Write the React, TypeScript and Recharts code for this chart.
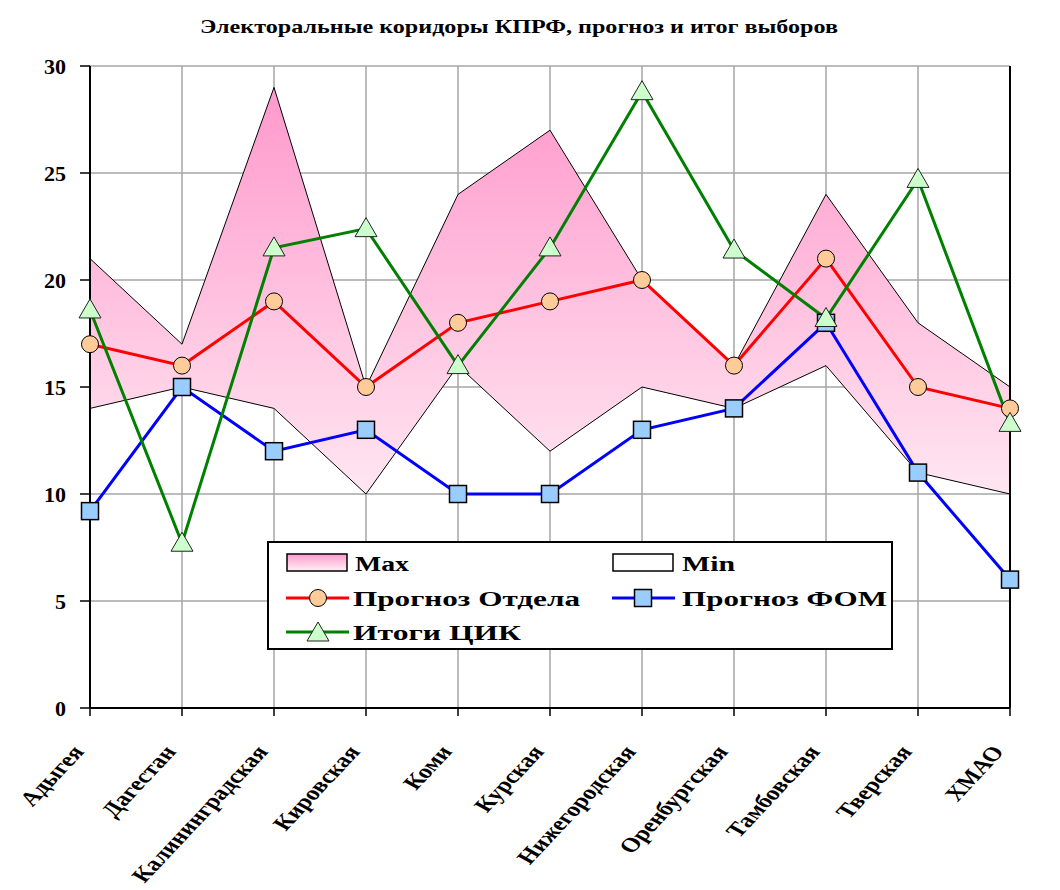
import React from 'react';
import { ComposedChart, Area, Line, XAxis, YAxis, CartesianGrid, Legend } from 'recharts';

const regions = ['Адыгея', 'Дагестан', 'Калининградская', 'Кировская', 'Коми', 'Курская', 'Нижегородская', 'Оренбургская', 'Тамбовская', 'Тверская', 'ХМАО'];
const maxValues = [21, 17, 29, 15, 24, 27, 20, 16, 24, 18, 15];
const minValues = [14, 15, 14, 10, 16, 12, 15, 14, 16, 11, 10];
const otdelForecast = [17, 16, 19, 15, 18, 19, 20, 16, 21, 15, 14];
const fomForecast = [9.2, 15, 12, 13, 10, 10, 13, 14, 18, 11, 6];
const cikResults = [18.6, 7.7, 21.5, 22.4, 16, 21.5, 28.8, 21.4, 18.2, 24.7, 13.3];
const yTicks = [0, 5, 10, 15, 20, 25, 30];

const data = regions.map((region, i) => ({
    region,
    max: maxValues[i],
    min: minValues[i],
    otdel: otdelForecast[i],
    fom: fomForecast[i],
    cik: cikResults[i],
}));

const FONT = '"Liberation Serif", "Times New Roman", serif';

const circleMark = (cx: number, cy: number, key?: any) => (
    <circle key={key} cx={cx} cy={cy} r={8.5} fill="#ffcc99" stroke="#000" strokeWidth={1} />
);
const squareMark = (cx: number, cy: number, key?: any) => (
    <rect key={key} x={cx - 8.5} y={cy - 8.5} width={17} height={17} fill="#99ccff" stroke="#000" strokeWidth={1.5} />
);
const triangleMark = (cx: number, cy: number, key?: any) => (
    <polygon
        key={key}
        points={`${cx},${cy - 11} ${cx + 11},${cy + 8} ${cx - 11},${cy + 8}`}
        fill="#ccffcc"
        stroke="#222"
        strokeWidth={1}
    />
);

// horizontal stretch gives the slanted look of the original rotated labels
const RegionTick = ({ x, y, payload }: any) => (
    <g transform={`translate(${x - 5},${y + 34})`}>
        <g transform="scale(1.3,1)">
            <text transform="rotate(-54)" textAnchor="end" fontFamily={FONT} fontWeight="bold" fontSize={20} fill="#000">
                {payload.value}
            </text>
        </g>
    </g>
);

// legend is drawn by hand so the two-column Excel layout can be kept
const LegendBox = () => {
    const label = (x: number, y: number, text: string, len: number) => (
        <text x={x} y={y} fontFamily={FONT} fontWeight="bold" fontSize={20} textLength={len} lengthAdjust="spacingAndGlyphs">
            {text}
        </text>
    );
    return (
        <svg width={626} height={109} style={{ display: 'block' }}>
            <defs>
                <linearGradient id="legendGrad" x1="0" y1="0" x2="0" y2="1">
                    <stop offset="0%" stopColor="#ff99cc" />
                    <stop offset="100%" stopColor="#fff0f6" />
                </linearGradient>
            </defs>
            <rect x={1} y={1} width={624} height={107} fill="#fff" stroke="#000" strokeWidth={2} />
            <rect x={20} y={13} width={60} height={17} fill="url(#legendGrad)" stroke="#000" strokeWidth={1.5} />
            {label(88, 30, 'Max', 54)}
            <rect x={346} y={13} width={60} height={17} fill="#fff" stroke="#000" strokeWidth={1.5} />
            {label(415, 30, 'Min', 53)}
            <line x1={19} y1={57} x2={82} y2={57} stroke="#ff0000" strokeWidth={3} />
            {circleMark(51, 57)}
            {label(86, 65, 'Прогноз Отдела', 227)}
            <line x1={345} y1={57} x2={408} y2={57} stroke="#0000ff" strokeWidth={3} />
            {squareMark(376, 57)}
            {label(415, 65, 'Прогноз ФОМ', 205)}
            <line x1={19} y1={91} x2={82} y2={91} stroke="#008000" strokeWidth={3} />
            {triangleMark(51, 92)}
            {label(86, 99, 'Итоги ЦИК', 168)}
        </svg>
    );
};

const App: React.FC = () => {
    return (
        <div style={{ position: 'absolute', left: 0, top: 0, width: 1060, height: 890, background: '#fff', fontFamily: FONT }}>
            <svg width={1060} height={50} style={{ position: 'absolute', left: 0, top: 0 }}>
                <text x={519} y={33} textAnchor="middle" fontFamily={FONT} fontWeight="bold" fontSize={19} textLength={638} lengthAdjust="spacingAndGlyphs">
                    Электоральные коридоры КПРФ, прогноз и итог выборов
                </text>
            </svg>
            <ComposedChart width={1060} height={890} data={data} margin={{ top: 66, right: 0, bottom: 0, left: 0 }}>
                <defs>
                    <linearGradient id="maxGrad" x1="0" y1="0" x2="0" y2="1">
                        <stop offset="0%" stopColor="#ff99cc" />
                        <stop offset="100%" stopColor="#ffe6f1" />
                    </linearGradient>
                </defs>
                <CartesianGrid stroke="#a6a6a6" strokeWidth={1.5} />
                <XAxis
                    dataKey="region"
                    scale="point"
                    padding={{ left: 0, right: 0 }}
                    height={182}
                    interval={0}
                    tickSize={8}
                    axisLine={{ stroke: '#000', strokeWidth: 2 }}
                    tickLine={{ stroke: '#000', strokeWidth: 1.5 }}
                    tick={<RegionTick />}
                />
                <YAxis
                    width={90}
                    domain={[0, 30]}
                    ticks={yTicks}
                    tickSize={10}
                    tickMargin={14}
                    axisLine={{ stroke: '#000', strokeWidth: 2 }}
                    tickLine={{ stroke: '#000', strokeWidth: 1.5 }}
                    tick={{ fill: '#000', fontSize: 22, fontWeight: 700, fontFamily: FONT }}
                />
                <YAxis
                    yAxisId="right"
                    orientation="right"
                    width={50}
                    domain={[0, 30]}
                    ticks={yTicks}
                    tickSize={8}
                    tickMargin={10}
                    axisLine={{ stroke: '#000', strokeWidth: 2 }}
                    tickLine={{ stroke: '#000', strokeWidth: 1.5 }}
                    tick={{ fill: '#000', fontSize: 22, fontWeight: 700, fontFamily: FONT }}
                />
                <Area
                    type="linear"
                    dataKey={(d: any) => [d.min, d.max]}
                    name="Max"
                    fill="url(#maxGrad)"
                    fillOpacity={1}
                    stroke="none"
                    isAnimationActive={false}
                    activeDot={false}
                />
                <Line type="linear" dataKey="max" name="Max" stroke="#000" strokeWidth={1} dot={false} activeDot={false} isAnimationActive={false} />
                <Line type="linear" dataKey="min" name="Min" stroke="#000" strokeWidth={1} dot={false} activeDot={false} isAnimationActive={false} />
                <Line
                    type="linear"
                    dataKey="otdel"
                    name="Прогноз Отдела"
                    stroke="#ff0000"
                    strokeWidth={3}
                    dot={(p: any) => circleMark(p.cx, p.cy, `o${p.index}`)}
                    activeDot={false}
                    isAnimationActive={false}
                />
                <Line
                    type="linear"
                    dataKey="fom"
                    name="Прогноз ФОМ"
                    stroke="#0000ff"
                    strokeWidth={3}
                    dot={(p: any) => squareMark(p.cx, p.cy, `f${p.index}`)}
                    activeDot={false}
                    isAnimationActive={false}
                />
                <Line
                    type="linear"
                    dataKey="cik"
                    name="Итоги ЦИК"
                    stroke="#008000"
                    strokeWidth={3}
                    dot={(p: any) => triangleMark(p.cx, p.cy, `c${p.index}`)}
                    activeDot={false}
                    isAnimationActive={false}
                />
                <Legend
                    layout="horizontal"
                    verticalAlign="middle"
                    align="center"
                    content={<LegendBox />}
                    wrapperStyle={{ left: 267, top: 541, width: 626, height: 109 }}
                />
            </ComposedChart>
        </div>
    );
};

export default App;
